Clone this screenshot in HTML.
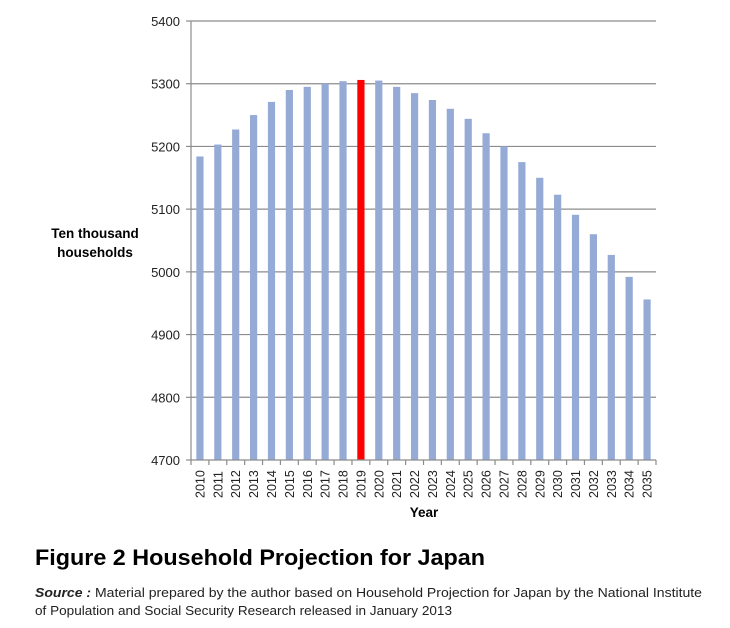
<!DOCTYPE html>
<html><head><meta charset="utf-8"><style>
html,body{margin:0;padding:0;background:#fff;}
svg{display:block;font-family:"Liberation Sans",sans-serif;}
</style></head><body>
<svg id="c" width="730" height="628" viewBox="0 0 730 628" xmlns="http://www.w3.org/2000/svg">
<g id="grid"></g>
<g id="bars"></g>
<g id="ax"></g>
<text x="95" y="238" font-size="13.5" font-weight="bold" text-anchor="middle" fill="#000">Ten thousand</text>
<text x="95" y="257" font-size="13.5" font-weight="bold" text-anchor="middle" fill="#000">households</text>
<text x="424" y="517" font-size="13.5" font-weight="bold" text-anchor="middle" fill="#000">Year</text>
<text x="35" y="565" font-size="22" font-weight="bold" fill="#000" textLength="450" lengthAdjust="spacingAndGlyphs">Figure 2 Household Projection for Japan</text>
<text x="35" y="597" font-size="12.5" fill="#222" textLength="667" lengthAdjust="spacingAndGlyphs"><tspan font-weight="bold" font-style="italic">Source :</tspan> Material prepared by the author based on Household Projection for Japan by the National Institute</text>
<text x="35" y="615" font-size="12.5" fill="#222" textLength="417" lengthAdjust="spacingAndGlyphs">of Population and Social Security Research released in January 2013</text>
</svg>
<script>
var NS="http://www.w3.org/2000/svg";
function el(p,t,a,txt){var e=document.createElementNS(NS,t);for(var k in a)e.setAttribute(k,a[k]);if(txt!=null)e.textContent=txt;document.getElementById(p).appendChild(e);return e;}
var x0=191,x1=656,y0=460,s=(460-21)/700;
for(var v=4700;v<=5400;v+=100){var y=y0-(v-4700)*s;
 if(v>4700)el("grid","line",{x1:x0,x2:x1,y1:y,y2:y,stroke:"#8c8c8c","stroke-width":1.2});
 el("ax","line",{x1:x0-5,x2:x0,y1:y,y2:y,stroke:"#8c8c8c","stroke-width":1.2});
 el("ax","text",{x:180,y:y+5,"font-size":13,"text-anchor":"end",fill:"#222"},v);}
var vals=[5184,5203,5227,5250,5271,5290,5295,5300,5304,5306,5305,5295,5285,5274,5260,5244,5221,5200,5175,5150,5123,5091,5060,5027,4992,4956];
var cw=(x1-x0)/26;
vals.forEach(function(v,i){var cx=x0+cw*(i+0.5);var h=(v-4700)*s;
 el("bars","rect",{x:cx-3.6,y:y0-h,width:7.2,height:h,fill:i==9?"#ff0000":"#95abd6"});
 el("ax","line",{x1:x0+cw*(i+1),x2:x0+cw*(i+1),y1:y0,y2:y0+5,stroke:"#8c8c8c","stroke-width":1.2});
 el("ax","text",{transform:"translate("+(cx+4.5)+",498) rotate(-90)","font-size":12.5,fill:"#222"},2010+i);});
el("ax","line",{x1:x0,x2:x0,y1:21,y2:y0+5,stroke:"#8c8c8c","stroke-width":1.2});
el("ax","line",{x1:x0,x2:x1,y1:y0,y2:y0,stroke:"#8c8c8c","stroke-width":1.2});
</script>
</body></html>
